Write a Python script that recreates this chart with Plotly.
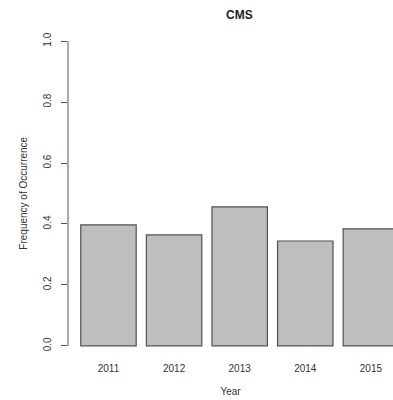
import plotly.graph_objects as go

# Yearly frequency of occurrence for CMS
years = ["2011", "2012", "2013", "2014", "2015"]
frequency = [0.397, 0.364, 0.456, 0.344, 0.384]

y_ticks = [0.0, 0.2, 0.4, 0.6, 0.8, 1.0]
y_tick_text = ["0.0", "0.2", "0.4", "0.6", "0.8", "1.0"]

FONT = "Liberation Sans, Arial, Helvetica, sans-serif"
TEXT = "#333333"

fig = go.Figure(
    go.Bar(
        x=years,
        y=frequency,
        marker=dict(color="#bebebe", line=dict(color="#505050", width=1.2)),
        hoverinfo="x+y",
    )
)

fig.update_layout(
    width=393,
    height=400,
    margin=dict(l=68, r=0, t=29, b=42),
    paper_bgcolor="white",
    plot_bgcolor="white",
    bargap=0.155,
    showlegend=False,
    font=dict(family=FONT, size=10, color=TEXT),
    xaxis=dict(
        type="category",
        range=[-0.617, 4.337],
        showgrid=False,
        zeroline=False,
        showline=False,
        ticks="",
        ticklabelstandoff=3,
        tickfont=dict(size=10, color=TEXT),
        title=dict(text="Year", font=dict(size=10, color=TEXT), standoff=14),
    ),
    yaxis=dict(
        range=[-0.04, 1.04],
        tickvals=y_ticks,
        ticktext=y_tick_text,
        tickangle=-90,
        ticks="outside",
        ticklen=6,
        tickcolor="#555555",
        tickwidth=1,
        ticklabelstandoff=6,
        tickfont=dict(size=10, color=TEXT),
        showgrid=False,
        zeroline=False,
        showline=False,
    ),
    shapes=[
        # y axis line spanning only the labelled range
        dict(type="line", xref="paper", yref="y", x0=0, x1=0, y0=0, y1=1,
             line=dict(color="#555555", width=1)),
    ],
    annotations=[
        dict(text="<b>CMS</b>", xref="x", yref="paper", x=2, y=1.043,
             xanchor="center", yanchor="middle", showarrow=False,
             font=dict(size=12, color="#222222")),
        dict(text="Frequency of Occurrence", xref="paper", yref="y",
             x=-0.138, y=0.5, xanchor="center", yanchor="middle",
             textangle=-90, showarrow=False,
             font=dict(size=10, color=TEXT)),
    ],
)

fig.write_html("out.html")
